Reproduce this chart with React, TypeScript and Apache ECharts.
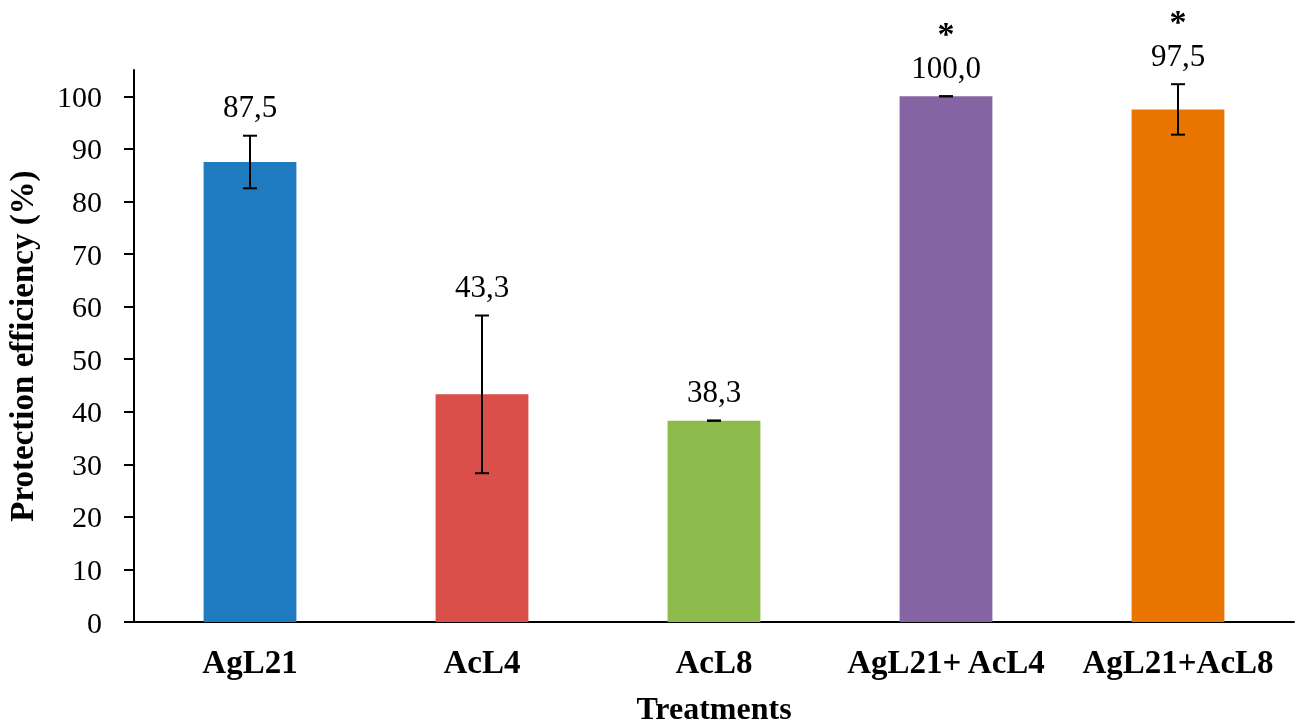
import React, { useEffect, useRef } from "react";
import * as echarts from "echarts";

const categories = ["AgL21", "AcL4", "AcL8", "AgL21+ AcL4", "AgL21+AcL8"];
const values = [87.5, 43.3, 38.3, 100.0, 97.5];
const errors = [5.0, 15.0, 0.0, 0.0, 4.8];
const marks = ["", "", "", "*", "*"];
const barColors = ["#1F7BBF", "#DA4F4A", "#8CBB4C", "#8464A3", "#E87500"];
const yTicks = [0, 10, 20, 30, 40, 50, 60, 70, 80, 90, 100];

const FONT = "'Liberation Serif', 'Times New Roman', serif";

export default function App() {
  const ref = useRef<HTMLDivElement>(null);
  useEffect(() => {
    if (!ref.current) return;
    document.body.style.margin = "0";
    document.body.style.overflow = "hidden";
    const chart = echarts.init(ref.current, undefined, { renderer: "svg" });
    chart.setOption({
      animation: false,
      grid: { left: 134, right: 4, top: 70, bottom: 106, containLabel: false, outerBoundsMode: "none" },
      xAxis: {
        type: "category",
        data: categories,
        name: "Treatments",
        nameLocation: "middle",
        nameGap: 69,
        nameTextStyle: { fontFamily: FONT, fontSize: 32, fontWeight: "bold", color: "#000", lineHeight: 34 },
        axisLine: { lineStyle: { color: "#000", width: 2 } },
        axisTick: { show: false },
        axisLabel: { interval: 0, fontFamily: FONT, fontSize: 33, fontWeight: "bold", color: "#000", margin: 23 },
      },
      yAxis: {
        type: "value",
        min: 0,
        max: 105,
        interval: 10,
        name: "Protection efficiency (%)",
        nameLocation: "middle",
        nameGap: 96,
        nameRotate: 90,
        nameTextStyle: { fontFamily: FONT, fontSize: 33, fontWeight: "bold", color: "#000" },
        axisLine: { show: true, lineStyle: { color: "#000", width: 2 } },
        axisTick: { show: true, length: 10, customValues: yTicks, lineStyle: { color: "#000", width: 2 } },
        axisLabel: { fontFamily: FONT, fontSize: 30, color: "#000", margin: 32, customValues: yTicks },
        splitLine: { show: false },
      },
      series: [
        {
          type: "bar",
          barWidth: "40%",
          data: values.map((v, i) => ({ value: v, itemStyle: { color: barColors[i] } })),
        },
        {
          type: "custom",
          clip: false,
          z: 5,
          data: categories.map((c, i) => [i, values[i], errors[i]]),
          renderItem: (params: any, api: any) => {
            const i = api.value(0);
            const v = api.value(1);
            const e = api.value(2);
            const top = api.coord([i, v + e]);
            const bot = api.coord([i, v - e]);
            const half = 7;
            const ls = { stroke: "#000", lineWidth: 2 };
            const label = values[params.dataIndex].toFixed(1).replace(".", ",");
            const mark = marks[params.dataIndex];
            const children: any[] = [
              { type: "line", shape: { x1: top[0], y1: top[1], x2: bot[0], y2: bot[1] }, style: ls },
              { type: "line", shape: { x1: top[0] - half, y1: top[1], x2: top[0] + half, y2: top[1] }, style: ls },
              { type: "line", shape: { x1: bot[0] - half, y1: bot[1], x2: bot[0] + half, y2: bot[1] }, style: ls },
              {
                type: "text",
                x: top[0],
                y: top[1] - 29,
                style: {
                  text: label,
                  fontFamily: FONT,
                  fontSize: 31,
                  fill: "#000",
                  align: "center",
                  verticalAlign: "middle",
                },
              },
            ];
            if (mark) {
              children.push({
                type: "text",
                x: top[0],
                y: top[1] - 29 - 34,
                style: {
                  text: mark,
                  fontFamily: FONT,
                  fontSize: 34,
                  fontWeight: "bold",
                  fill: "#000",
                  align: "center",
                  verticalAlign: "middle",
                },
              });
            }
            return { type: "group", children };
          },
        },
      ],
    });
    return () => chart.dispose();
  }, []);
  return <div ref={ref} style={{ position: "fixed", left: 0, top: 0, width: 1298, height: 728 }} />;
}
